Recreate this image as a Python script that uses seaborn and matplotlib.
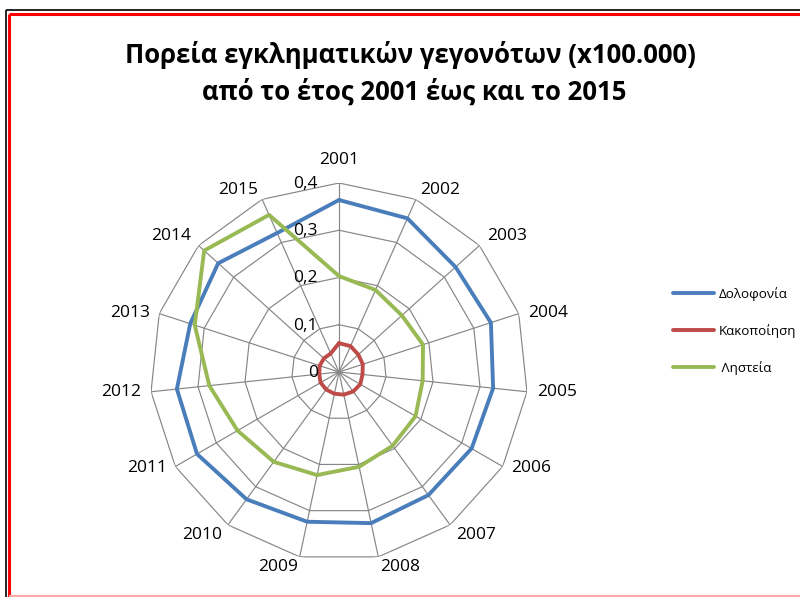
import numpy as np
import pandas as pd
import matplotlib
matplotlib.use("Agg")
import matplotlib.pyplot as plt
import seaborn as sns
from matplotlib.lines import Line2D

# ---------------- data ----------------
years = [str(y) for y in range(2001, 2016)]
dolofonia = [0.364, 0.356, 0.332, 0.338, 0.328, 0.324, 0.322, 0.327,
             0.324, 0.333, 0.347, 0.345, 0.331, 0.344, 0.322]
kakopoiisi = [0.061, 0.060, 0.055, 0.053, 0.050, 0.052, 0.051, 0.049,
              0.047, 0.046, 0.045, 0.042, 0.043, 0.043, 0.043]
listeia = [0.203, 0.190, 0.179, 0.187, 0.178, 0.187, 0.193, 0.205,
           0.223, 0.235, 0.248, 0.276, 0.321, 0.384, 0.364]
series_names = ["Δολοφονία", "Κακοποίηση", "Ληστεία"]
legend_labels = ["Δολοφονία", "Κακοποίηση", " Ληστεία"]
series_colors = ["#4A7EBB", "#BE4B48", "#98B954"]
radial_ticks = [0.1, 0.2, 0.3, 0.4]
radial_labels = ["0", "0,1", "0,2", "0,3", "0,4"]
radial_label_values = [0.0, 0.1, 0.2, 0.3, 0.4]
title_lines = ["Πορεία εγκληματικών γεγονότων (x100.000)",
               "από το έτος 2001 έως και το 2015"]

# ---------------- style ----------------
sns.set_style("white")
FONT = ["Open Sans", "DejaVu Sans"]
plt.rcParams["font.family"] = FONT
plt.rcParams["text.color"] = "black"
W, H, DPI = 800, 597, 100
PX2PT = 72.0 / DPI

fig = plt.figure(figsize=(W / DPI, H / DPI), dpi=DPI)
fig.patch.set_facecolor("white")

# polar axes: centre (339, 372) px, radius 189 px
cx, cy, R = 339, 372, 189
ax = fig.add_axes([(cx - R) / W, (H - cy - R) / H, 2 * R / W, 2 * R / H],
                  projection="polar")
ax.set_theta_zero_location("N")
ax.set_theta_direction(-1)
ax.set_ylim(0, 0.4)
ax.grid(False)
ax.set_xticks([])
ax.set_yticks([])
ax.spines["polar"].set_visible(False)
ax.patch.set_visible(False)

n = len(years)
theta = np.linspace(0, 2 * np.pi, n, endpoint=False)
theta_closed = np.append(theta, 2 * np.pi)

# polygon grid
grid_color = "#868686"
for r in radial_ticks:
    ax.plot(theta_closed, [r] * (n + 1), color=grid_color, lw=0.85, zorder=1)
for t in theta:
    ax.plot([t, t], [0, 0.4], color=grid_color, lw=0.85, zorder=1)

# data in long form
rows = []
for name, vals in zip(series_names, [dolofonia, kakopoiisi, listeia]):
    closed = list(vals) + [vals[0]]
    for i, (t, v) in enumerate(zip(theta_closed, closed)):
        rows.append({"theta": t, "value": v, "series": name, "order": i})
df = pd.DataFrame(rows)

sns.lineplot(data=df, x="theta", y="value", hue="series",
             hue_order=series_names, palette=series_colors,
             sort=False, estimator=None, units="series",
             lw=2.8, legend=False, ax=ax, zorder=3)
ax.set_xlabel("")
ax.set_ylabel("")
ax.set_ylim(0, 0.4)

# category (year) labels
for t, lab in zip(theta, years):
    s, c = np.sin(t), np.cos(t)
    if abs(s) < 0.1:
        ha = "center"
        dx, dy = 0, 15 * c
        va = "bottom" if c > 0 else "top"
    else:
        ha = "left" if s > 0 else "right"
        dx, dy = 10 * s, 2 * c
        va = "bottom" if c > 0.55 else ("top" if c < -0.55 else "center")
    ax.annotate(lab, xy=(t, 0.4), xytext=(dx * PX2PT, dy * PX2PT),
                textcoords="offset points", ha=ha, va=va,
                fontsize=12.5, color="black", family=FONT,
                annotation_clip=False)

# radial value labels
for v, lab in zip(radial_label_values, radial_labels):
    ax.annotate(lab, xy=(0, v), xytext=(-21 * PX2PT, -1 * PX2PT),
                textcoords="offset points", ha="right", va="center",
                fontsize=12.5, color="black", family=FONT,
                annotation_clip=False, zorder=5)

# legend
handles = [Line2D([0], [0], color=c, lw=2.8) for c in series_colors]
leg = fig.legend(handles, legend_labels, loc="center left",
                 bbox_to_anchor=(673 / W, (H - 331) / H), frameon=False,
                 handlelength=3.1, handletextpad=0.3,
                 labelspacing=1.75, borderpad=0, borderaxespad=0,
                 prop={"family": FONT, "size": 9.6})
for txt in leg.get_texts():
    txt.set_color("black")

# title (two lines)
fig.text(410 / W, 1 - 55 / H, title_lines[0], ha="center", va="center",
         fontsize=18.5, fontweight="bold", family=FONT, color="black")
fig.text(414 / W, 1 - 92 / H, title_lines[1], ha="center", va="center",
         fontsize=18.5, fontweight="bold", family=FONT, color="black")

# frame lines (black outer, red inner, pink bottom)
def fline(x0, y0, x1, y1, color, lw):
    fig.add_artist(Line2D([x0 / W, x1 / W], [1 - y0 / H, 1 - y1 / H],
                          color=color, lw=lw, transform=fig.transFigure,
                          solid_capstyle="butt"))

fline(5.5, 10.3, 800, 10.3, "#000000", 1.2)
fline(5.5, 10.3, 5.5, 597, "#000000", 1.2)
fline(8.7, 13.7, 800, 13.7, "#FF0000", 2.2)
fline(8.7, 13.7, 8.7, 597, "#FF0000", 2.2)
fline(8.7, 595.8, 800, 595.8, "#FFA8A8", 1.6)

fig.savefig("out.png", dpi=DPI, facecolor="white")
